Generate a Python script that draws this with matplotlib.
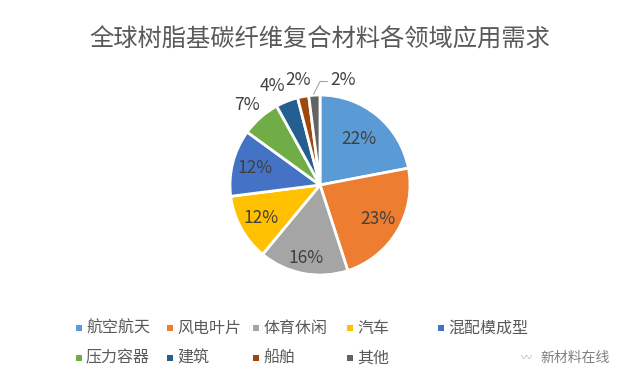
import numpy as np
import matplotlib.pyplot as plt
from matplotlib.patches import Rectangle

plt.rcParams['font.family'] = ['Noto Sans CJK SC', 'DejaVu Sans']

labels = ['航空航天', '风电叶片', '体育休闲', '汽车', '混配模成型',
          '压力容器', '建筑', '船舶', '其他']
values = [22, 23, 16, 12, 12, 7, 4, 2, 2]
colors = ['#5B9BD5', '#ED7D31', '#A5A5A5', '#FFC000', '#4472C4',
          '#70AD47', '#255E91', '#9E480E', '#636363']
# inside labels: distance from centre (radius = 1)
label_r = [0.67, 0.75, 0.83, 0.75, 0.74]
# outside labels of the small slices, placed by hand like the original
outside_xy = [(-0.81, 0.89), (-0.53, 1.1), (-0.24, 1.17), (0.26, 1.17)]

fig = plt.figure(figsize=(6.4, 3.84), dpi=100)
ax = fig.add_axes([230 / 640, (384 - 275) / 384, 180 / 640, 180 / 384])

wedges, _ = ax.pie(values, colors=colors, startangle=90, counterclock=False,
                   wedgeprops={'edgecolor': 'white', 'linewidth': 2})
ax.set_xlim(-1, 1)
ax.set_ylim(-1, 1)
ax.set_aspect('equal')
ax.axis('off')

for i, (w, v) in enumerate(zip(wedges, values)):
    if i < len(label_r):
        a = np.deg2rad((w.theta1 + w.theta2) / 2)
        x, y = label_r[i] * np.cos(a), label_r[i] * np.sin(a)
    else:
        x, y = outside_xy[i - len(label_r)]
    ax.text(x, y, f'{v}%', ha='center', va='center', fontsize=12.5,
            color='#404040')

# leader line for the last slice
ax.plot([-0.07, 0.0, 0.08], [1.01, 1.15, 1.15], color='#A6A6A6', lw=0.8,
        clip_on=False)

fig.text(320, 384 - 40, '全球树脂基碳纤维复合材料各领域应用需求', ha='center',
         va='center', fontsize=17.5, color='#595959', transform=None)

# legend, laid out in two rows like the original
col_x = [79, 170, 256, 350, 441]
row_y = [328, 358]
for i, (lab, c) in enumerate(zip(labels, colors)):
    r, k = divmod(i, 5)
    x0, y0 = col_x[k], 384 - row_y[r]
    fig.add_artist(Rectangle((x0 - 3, y0 - 3), 6, 6, transform=None,
                             facecolor=c, edgecolor='none'))
    fig.text(x0 + 7, y0, lab, transform=None, ha='left', va='center',
             fontsize=11.5, color='#595959')

fig.text(527, 384 - 358, '〰', transform=None, ha='center', va='center',
         fontsize=8, color='#B0B0B0')
fig.text(540, 384 - 358, '新材料在线', transform=None, ha='left', va='center',
         fontsize=10, color='#7F7F7F')

fig.savefig('out.png', dpi=100)
